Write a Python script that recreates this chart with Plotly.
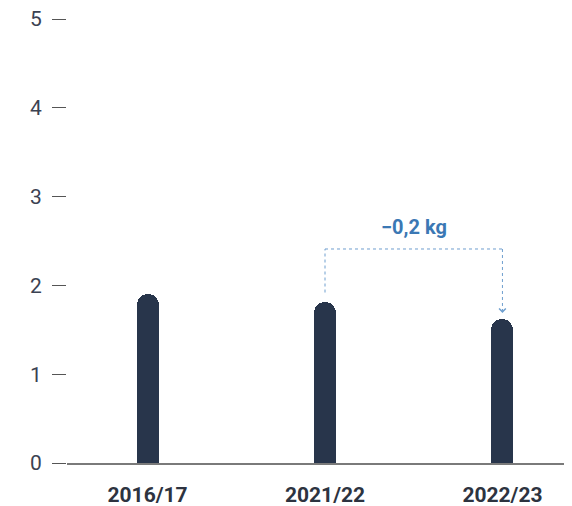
import plotly.graph_objects as go

categories = ["2016/17", "2021/22", "2022/23"]
values = [1.90, 1.81, 1.62]
y_ticks = [0, 1, 2, 3, 4, 5]
change_label = "\u22120,2 kg"
bracket_level = 2.41

BAR_COLOR = "#28354b"
BLUE = "#3b78b4"
LIGHT_BLUE = "#6f9fcf"

fig = go.Figure()
fig.add_trace(go.Bar(
    x=categories, y=values, width=0.124,
    marker=dict(color=BAR_COLOR, cornerradius="50%", line=dict(width=0)),
    hoverinfo="skip",
))

i0, i1 = 1, 2
# dotted bracket
fig.add_shape(type="line", xref="x", yref="y", x0=i0, x1=i0,
              y0=values[i0] + 0.11, y1=bracket_level,
              line=dict(color=LIGHT_BLUE, width=1, dash="dot"))
fig.add_shape(type="line", xref="x", yref="y", x0=i0, x1=i1,
              y0=bracket_level, y1=bracket_level,
              line=dict(color=LIGHT_BLUE, width=1, dash="dot"))
fig.add_shape(type="line", xref="x", yref="y", x0=i1, x1=i1,
              y0=bracket_level, y1=values[i1] + 0.1,
              line=dict(color=LIGHT_BLUE, width=1, dash="dot"))
fig.add_annotation(x=i1, y=values[i1] + 0.07, xref="x", yref="y",
                   ax=0, ay=-5, showarrow=True, arrowhead=4, arrowsize=1.3,
                   arrowwidth=1, arrowcolor=LIGHT_BLUE, text="")
fig.add_annotation(x=(i0 + i1) / 2, y=2.66, xref="x", yref="y",
                   text=change_label, showarrow=False,
                   font=dict(family="Roboto", size=20, color=BLUE, weight="bold"))

# page body has an 8px default margin, so the figure is offset by 8px
fig.update_layout(
    width=564, height=498,
    margin=dict(l=59, r=0, t=11, b=43),
    paper_bgcolor="white", plot_bgcolor="white",
    showlegend=False,
    font=dict(family="Roboto", color="#3b4252"),
    bargap=0,
)
fig.update_xaxes(
    type="category", range=[-0.454, 2.392], automargin=False,
    showline=True, linecolor="#7a7a7a", linewidth=2,
    showgrid=False, ticks="", zeroline=False,
    tickfont=dict(family="Roboto", size=21, color="#2d3340", weight="bold"),
    ticklabelstandoff=12,
)
fig.update_yaxes(
    range=[0, 5], tickvals=y_ticks, ticktext=[str(v) for v in y_ticks],
    automargin=False,
    showgrid=False, zeroline=False, showline=False,
    ticks="outside", ticklen=14, tickwidth=1, tickcolor="#555555",
    tickfont=dict(family="Roboto", size=21, color="#3b4252"),
    ticklabelstandoff=6, ticklabeloverflow="allow",
)

fig.write_html("out.html")
